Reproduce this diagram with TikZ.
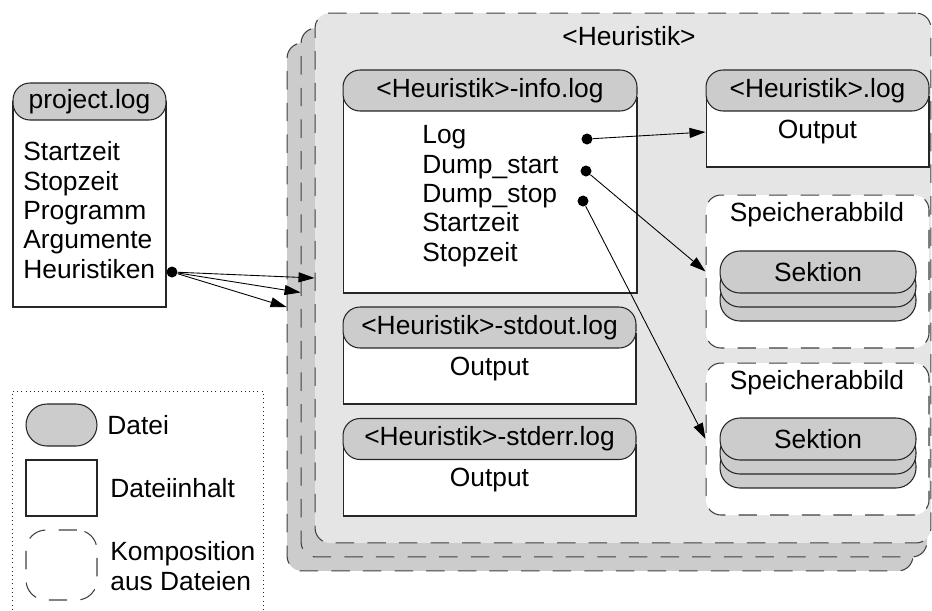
\documentclass[tikz,border=0pt]{standalone}
\usepackage{fontspec}
\setmainfont{Liberation Sans}
\usetikzlibrary{arrows.meta}
\newcommand{\heur}[0]{<Heuristik>}
\newcommand{\zeilen}[0]{\fontsize{15}{16.7}\selectfont}

\begin{document}
\begin{tikzpicture}[x=0.02cm, y=-0.02cm]
  \tikzset{every node/.style={font=\zeilen, inner sep=0pt},
           datei/.style={draw=black!85, fill=black!20, line width=0.6pt, rounded corners=0.34cm},
           inhalt/.style={draw=black!85, fill=white, line width=0.6pt},
           kompo/.style={draw=black!75, line width=0.6pt, dash pattern=on 10.5pt off 7.5pt, rounded corners=0.3cm},
           punkt/.style={circle, fill=black, minimum size=0.22cm},
           pfeil/.style={-{Triangle[length=0.32cm,width=0.2cm]}, line width=0.5pt}}
  \useasboundingbox (0,0) rectangle (932,610);
  % <Heuristik> stack
  \node[kompo, fill=black!20, minimum width=12.52cm, minimum height=10.56cm] (hb) at (600,307) {};
  \node[kompo, fill=black!20, minimum width=12.52cm, minimum height=10.58cm] (hm) at (614,292.5) {};
  \node[kompo, fill=black!10, minimum width=12.32cm, minimum height=10.6cm] (hf) at (623,278) {};
  \node (ht) at (629,36) {\heur};
  % info
  \node[inhalt, minimum width=5.88cm, minimum height=3.92cm] (infoI) at (490,195) {};
  \node[datei, minimum width=5.88cm, minimum height=0.82cm] (info) at (490,90.5) {\heur-info.log};
  \node[anchor=west, align=left] (infoT) at (422,196) {Log\\Dump\_start\\Dump\_stop\\Startzeit\\Stopzeit};
  \node[punkt] (dLog) at (587,139) {};
  \node[punkt] (dStart) at (586,171) {};
  \node[punkt] (dStop) at (583,201) {};
  % stdout, stderr
  \node[inhalt, minimum width=5.86cm, minimum height=1.4cm] (outI) at (489.5,369) {Output};
  \node[datei, minimum width=5.86cm, minimum height=0.82cm] (out) at (489.5,327.5) {\heur-stdout.log};
  \node[inhalt, minimum width=5.86cm, minimum height=1.42cm] (errI) at (489.5,480.5) {Output};
  \node[datei, minimum width=5.86cm, minimum height=0.82cm] (err) at (489.5,439) {\heur-stderr.log};
  % <Heuristik>.log
  \node[inhalt, minimum width=4.46cm, minimum height=1.4cm] (hlogI) at (817.5,132) {Output};
  \node[datei, minimum width=4.46cm, minimum height=0.82cm] (hlog) at (817.5,90.5) {\heur.log};
  % Speicherabbild
  \node[kompo, fill=white, minimum width=4.46cm, minimum height=3.06cm] (sp1) at (817.5,271.5) {};
  \node (sp1t) at (817,215) {Speicherabbild};
  \foreach \dy in {28,14}
    \node[datei, rounded corners=0.4cm, minimum width=3.92cm, minimum height=0.84cm] (sek1\dy) at (818,272+\dy) {};
  \node[datei, rounded corners=0.4cm, minimum width=3.92cm, minimum height=0.84cm] (sek1) at (818,272) {Sektion};
  \node[kompo, fill=white, minimum width=4.46cm, minimum height=3.04cm] (sp2) at (817.5,439) {};
  \node (sp2t) at (817,383) {Speicherabbild};
  \foreach \dy in {28,14}
    \node[datei, rounded corners=0.4cm, minimum width=3.92cm, minimum height=0.84cm] (sek2\dy) at (818,439+\dy) {};
  \node[datei, rounded corners=0.4cm, minimum width=3.92cm, minimum height=0.84cm] (sek2) at (818,439) {Sektion};
  % project.log
  \node[inhalt, minimum width=3.06cm, minimum height=4.12cm] (projI) at (89.5,204) {};
  \node[datei, minimum width=3.06cm, minimum height=0.74cm] (proj) at (89.5,101.5) {project.log};
  \node[anchor=west, align=left] (projT) at (23,210) {Startzeit\\Stopzeit\\Programm\\Argumente\\Heuristiken};
  \node[punkt] (dHeur) at (172,272) {};
  % Legende
  \node[draw=black!85, dotted, minimum width=5.02cm, minimum height=4.5cm] (leg) at (137.5,503.5) {};
  \node[datei, rounded corners=0.42cm, minimum width=1.42cm, minimum height=0.84cm] (lDatei) at (61.5,425) {};
  \node[anchor=west] (lDateiT) at (107,425) {Datei};
  \node[inhalt, minimum width=1.42cm, minimum height=1.12cm] (lInh) at (61.5,488) {};
  \node[anchor=west] (lInhT) at (110,488) {Dateiinhalt};
  \node[kompo, rounded corners=0.4cm, minimum width=1.42cm, minimum height=1.4cm] (lKomp) at (61.5,565) {};
  \node[anchor=west, align=left] (lKompT) at (110,566) {Komposition\\aus Dateien};
  % Pfeile
  \draw[pfeil] (dHeur) -- (hf.west);
  \draw[pfeil] (dHeur) -- (hm.west);
  \draw[pfeil] (dHeur) -- (hb.west);
  \draw[pfeil] (dLog) -- (hlogI.west);
  \draw[pfeil] (dStart) -- (sp1.west);
  \draw[pfeil] (dStop) -- (sp2.west);
\end{tikzpicture}
\end{document}
